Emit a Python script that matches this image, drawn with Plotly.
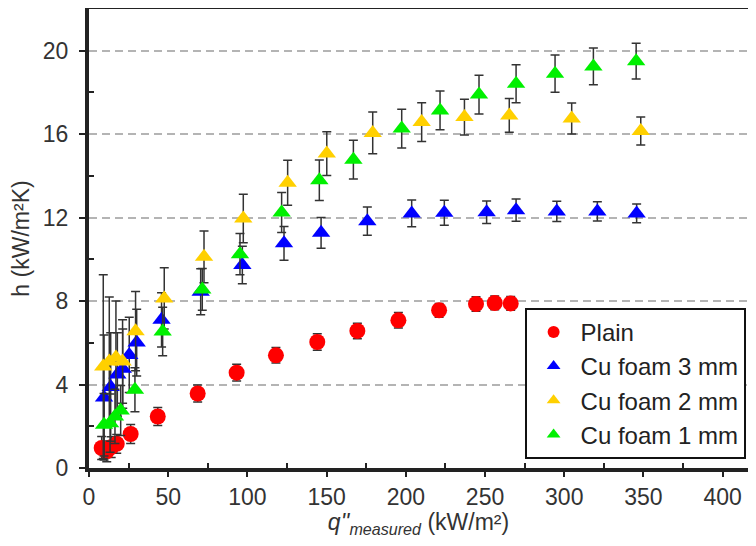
import plotly.graph_objects as go

# ---- data ----
plain_x = [8.0, 11.2, 14.0, 17.5, 26.3, 43.4, 68.6, 93.2, 118.0, 144.1, 169.4, 195.3, 221.0, 244.3, 256.1, 266.2]
plain_y = [0.96, 0.80, 1.00, 1.16, 1.63, 2.47, 3.57, 4.57, 5.40, 6.04, 6.57, 7.08, 7.56, 7.86, 7.91, 7.89]
plain_err = [0.55, 0.5, 0.5, 0.45, 0.46, 0.43, 0.41, 0.4, 0.37, 0.4, 0.37, 0.37, 0.33, 0.35, 0.33, 0.33]

blue_x = [9.5, 13.7, 17.9, 21.3, 25.4, 30.1, 45.8, 70.5, 96.8, 123.1, 146.5, 175.7, 203.7, 224.3, 251.0, 269.6, 295.3, 320.9, 345.7]
blue_y = [3.38, 3.88, 4.48, 4.76, 5.42, 6.01, 7.10, 8.45, 9.73, 10.77, 11.27, 11.83, 12.20, 12.23, 12.26, 12.36, 12.30, 12.30, 12.20]
blue_err = [3.0, 2.6, 2.0, 1.9, 1.8, 1.6, 1.3, 1.1, 0.9, 0.81, 0.74, 0.68, 0.64, 0.6, 0.54, 0.53, 0.49, 0.46, 0.45]

yellow_x = [9.0, 12.8, 17.0, 21.2, 29.4, 47.5, 72.6, 97.4, 125.4, 150.1, 179.1, 210.0, 237.0, 265.3, 304.7, 348.3]
yellow_y = [4.86, 5.10, 5.30, 5.10, 6.56, 8.13, 10.12, 11.96, 13.67, 15.07, 16.06, 16.58, 16.82, 16.90, 16.75, 16.15]
yellow_err = [4.4, 3.1, 2.7, 2.0, 1.9, 1.47, 1.24, 1.16, 1.08, 1.05, 1.0, 0.93, 0.86, 0.81, 0.74, 0.67]

green_x = [9.5, 13.3, 16.4, 20.0, 29.0, 46.5, 71.5, 95.3, 121.6, 145.4, 166.9, 197.4, 221.6, 246.2, 269.6, 294.2, 318.4, 345.4]
green_y = [2.07, 2.15, 2.47, 2.76, 3.75, 6.54, 8.56, 10.25, 12.25, 13.79, 14.78, 16.27, 17.14, 17.90, 18.42, 18.90, 19.25, 19.50]
green_err = [1.5, 1.4, 1.3, 1.2, 1.05, 1.16, 1.0, 0.99, 0.96, 0.97, 0.93, 0.93, 0.93, 0.93, 0.91, 0.89, 0.88, 0.86]

series = [
    ("Plain", plain_x, plain_y, plain_err, "circle", "#ff0000", 16),
    ("Cu foam 3 mm", blue_x, blue_y, blue_err, "triangle-up", "#0000ff", 16),
    ("Cu foam 2 mm", yellow_x, yellow_y, yellow_err, "triangle-up", "#ffd000", 16),
    ("Cu foam 1 mm", green_x, green_y, green_err, "triangle-up", "#00f000", 16),
]

FONT = "Liberation Sans, Arial, sans-serif"
TXT = "#333333"

fig = go.Figure()
for name, xs, ys, es, sym, col, sz in series:
    fig.add_trace(go.Scatter(
        x=xs, y=ys, name=name, mode="markers",
        marker=dict(symbol=sym, color=col, size=sz, line=dict(width=0)),
        error_y=dict(type="data", array=es, visible=True, color="#333333", thickness=1.5, width=4.5),
    ))

fig.update_layout(
    width=740, height=530,
    margin=dict(l=81, r=0, t=1, b=70),
    paper_bgcolor="white", plot_bgcolor="white",
    font=dict(family=FONT, size=23, color=TXT),
    showlegend=True,
    legend=dict(
        x=0.661, y=0.349, xanchor="left", yanchor="top",
        bgcolor="white", bordercolor="#111111", borderwidth=2,
        font=dict(family=FONT, size=24, color="#222222"),
        itemsizing="constant", tracegroupgap=0, itemwidth=44,
    ),
    xaxis=dict(
        range=[0, 416], tickvals=[0, 50, 100, 150, 200, 250, 300, 350, 400],
        automargin=False,
        showline=True, linewidth=4, linecolor="#222222", mirror=True,
        ticks="outside", ticklen=5, tickwidth=2, tickcolor="#222222",
        minor=dict(tickvals=[25, 75, 125, 175, 225, 275, 325, 375], ticks="inside", ticklen=5, tickwidth=2, tickcolor="#222222"),
        showgrid=False, zeroline=False,
        tickfont=dict(size=23, color=TXT),
        title=dict(text="<i>q''</i><sub><i>measured</i></sub> (kW/m²)", font=dict(size=23, color=TXT), standoff=6),
    ),
    yaxis=dict(
        range=[0, 22], tickvals=[0, 4, 8, 12, 16, 20],
        automargin=False,
        showline=True, linewidth=4, linecolor="#222222", mirror=False,
        ticks="outside", ticklen=6, tickwidth=2, tickcolor="#222222",
        minor=dict(tickvals=[2, 6, 10, 14, 18], ticks="inside", ticklen=5, tickwidth=2, tickcolor="#222222"),
        showgrid=True, gridcolor="#b4b4b4", gridwidth=2, griddash="8px,5px",
        zeroline=False, ticklabelstandoff=6,
        tickfont=dict(size=23, color=TXT),
        title=dict(text="h (kW/m²K)", font=dict(size=23, color=TXT), standoff=18),
    ),
)

fig.write_html("out.html")
